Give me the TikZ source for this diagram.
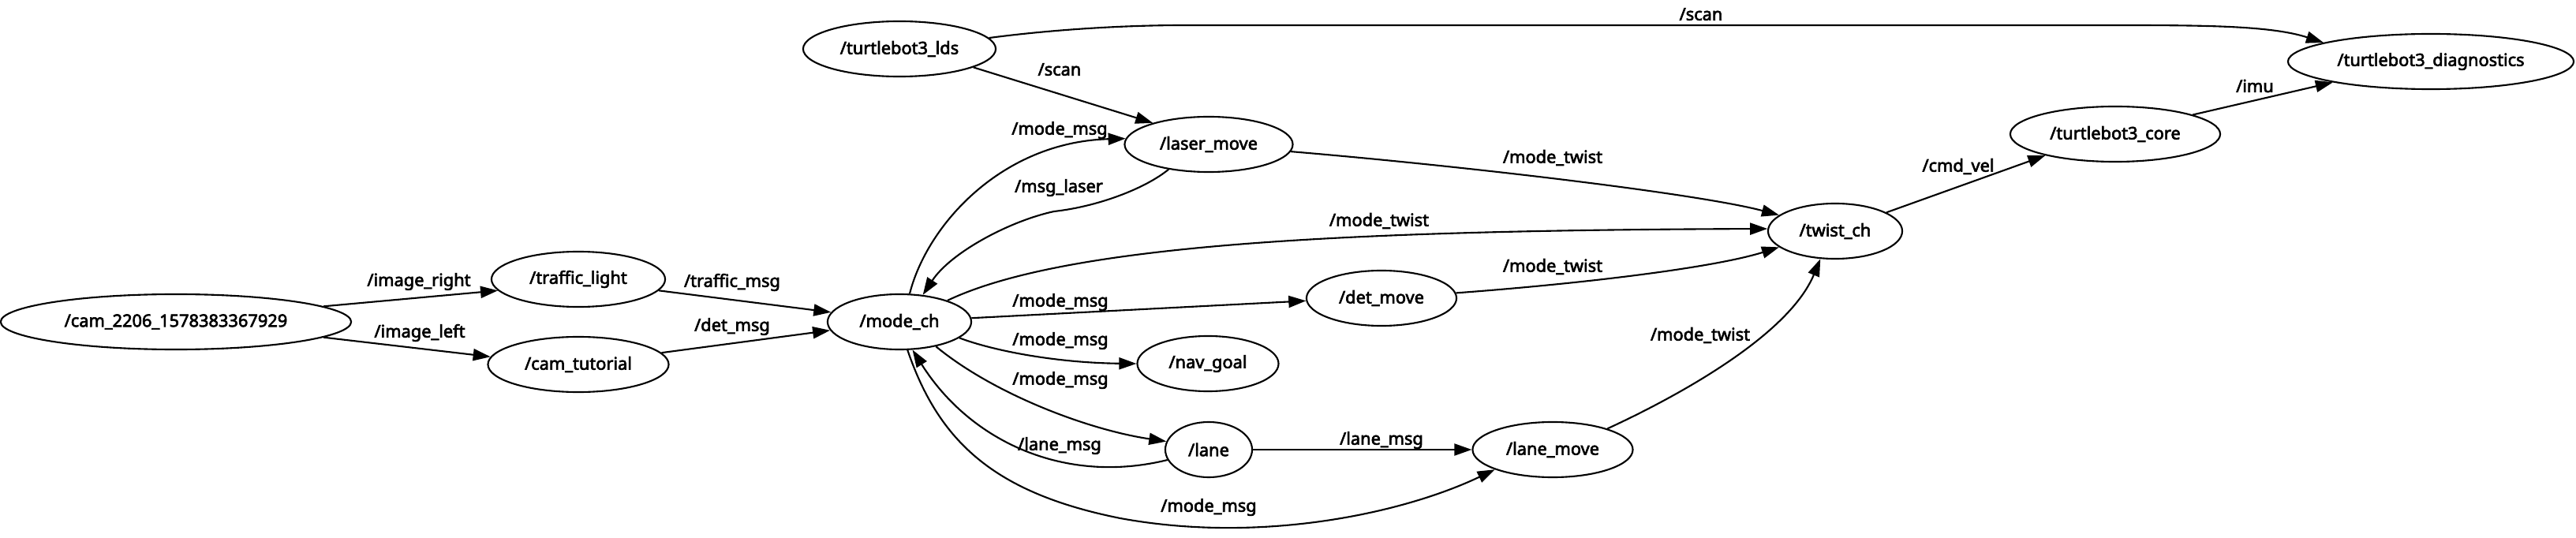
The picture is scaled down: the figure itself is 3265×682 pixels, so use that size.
\documentclass[tikz,border=0pt]{standalone}
\usepackage{fontspec}
\setmainfont{Noto Sans}[FakeBold=3]
\usetikzlibrary{shapes.geometric, arrows.meta}
\tikzset{
    rosnode/.style={ellipse, draw=black, line width=0.6pt, minimum height=0.7cm, inner sep=1pt, font=\fontsize{6.2}{7}\selectfont},
    topic/.style={inner sep=0pt, font=\fontsize{6.2}{7}\selectfont},
    link/.style={line width=0.6pt, -{Triangle[length=0.22cm, width=0.15cm]}}
}

\begin{document}
\begin{tikzpicture}[x=0.01cm, y=-0.01cm]
    \useasboundingbox (0,0) rectangle (3265,682);

    % nodes
    \node (cam) [rosnode, minimum width=4.44cm] at (223,408) {/cam\_2206\_1578383367929};
    \node (traffic) [rosnode, minimum width=2.2cm] at (733,354) {/traffic\_light};
    \node (tutorial) [rosnode, minimum width=2.29cm] at (733,462) {/cam\_tutorial};
    \node (mode) [rosnode, minimum width=1.82cm] at (1140,408) {/mode\_ch};
    \node (lds) [rosnode, minimum width=2.44cm] at (1140,62) {/turtlebot3\_lds};
    \node (laser) [rosnode, minimum width=2.13cm] at (1532,183) {/laser\_move};
    \node (det) [rosnode, minimum width=1.9cm] at (1751,378) {/det\_move};
    \node (nav) [rosnode, minimum width=1.79cm] at (1531,461) {/nav\_goal};
    \node (lane) [rosnode, minimum width=1.1cm] at (1532,570) {/lane};
    \node (lanemove) [rosnode, minimum width=2.03cm] at (1968,570) {/lane\_move};
    \node (twist) [rosnode, minimum width=1.7cm] at (2326,293) {/twist\_ch};
    \node (core) [rosnode, minimum width=2.66cm] at (2681,170) {/turtlebot3\_core};
    \node (diag) [rosnode, minimum width=3.62cm] at (3081,78) {/turtlebot3\_diagnostics};

    % topics
    \draw [link] (cam.6) -- (traffic.188);
    \draw [link] (cam.-6) -- (tutorial.175);
    \draw [link] (traffic.-8) -- (mode.172);
    \draw [link] (tutorial.8) -- (mode.187);
    \draw [link] (lds.7) .. controls (1330,38) and (1420,32) .. (1500,32) -- (2690,32)
        .. controls (2800,32) and (2880,33) .. (diag.170);
    \draw [link] (lds.-14) -- (laser.159);
    \draw [link] (mode.70) .. controls (1175,285) and (1270,180) .. (laser.176);
    \draw [link] (laser.212) .. controls (1450,240) and (1390,262) .. (1336,268)
        .. controls (1280,280) and (1205,320) .. (mode.49);
    \draw [link] (laser.-5) .. controls (1850,210) and (2150,245) .. (twist.164);
    \draw [link] (mode.24) .. controls (1350,310) and (1700,292) .. (twist.178);
    \draw [link] (mode.3) -- (det.182);
    \draw [link] (det.4) .. controls (2000,360) and (2170,340) .. (twist.196);
    \draw [link] (mode.-15) .. controls (1260,445) and (1340,460) .. (nav.180);
    \draw [link] (mode.-34) .. controls (1260,500) and (1380,545) .. (lane.169);
    \draw [link] (lane.194) .. controls (1350,615) and (1230,560) .. (mode.-65);
    \draw [link] (mode.-74) .. controls (1190,560) and (1260,625) .. (1420,657)
        .. controls (1600,690) and (1780,650) .. (lanemove.199);
    \draw [link] (lane.east) -- (lanemove.west);
    \draw [link] (lanemove.21) .. controls (2110,510) and (2265,430) .. (twist.242);
    \draw [link] (twist.20) -- (core.197);
    \draw [link] (core.14) -- (diag.192);

    % topic names
    \node (l_imgright) [topic] at (531,357) {/image\_right};
    \node (l_imgleft) [topic] at (532,422) {/image\_left};
    \node (l_traffic) [topic] at (928,358) {/traffic\_msg};
    \node (l_detmsg) [topic] at (928,414) {/det\_msg};
    \node (l_scandiag) [topic] at (2156,18) {/scan};
    \node (l_scanlaser) [topic] at (1343,88) {/scan};
    \node (l_modelaser) [topic] at (1343,165) {/mode\_msg};
    \node (l_msglaser) [topic] at (1342,238) {/msg\_laser};
    \node (l_twistlaser) [topic] at (1968,200) {/mode\_twist};
    \node (l_twistmode) [topic] at (1748,280) {/mode\_twist};
    \node (l_modedet) [topic] at (1344,383) {/mode\_msg};
    \node (l_twistdet) [topic] at (1968,338) {/mode\_twist};
    \node (l_modenav) [topic] at (1344,432) {/mode\_msg};
    \node (l_modelane) [topic] at (1344,482) {/mode\_msg};
    \node (l_laneback) [topic] at (1343,565) {/lane\_msg};
    \node (l_modelanemove) [topic] at (1532,643) {/mode\_msg};
    \node (l_lanemsg) [topic] at (1751,558) {/lane\_msg};
    \node (l_twistlanemove) [topic] at (2155,425) {/mode\_twist};
    \node (l_cmdvel) [topic] at (2482,211) {/cmd\_vel};
    \node (l_imu) [topic] at (2858,109) {/imu};
\end{tikzpicture}
\end{document}
